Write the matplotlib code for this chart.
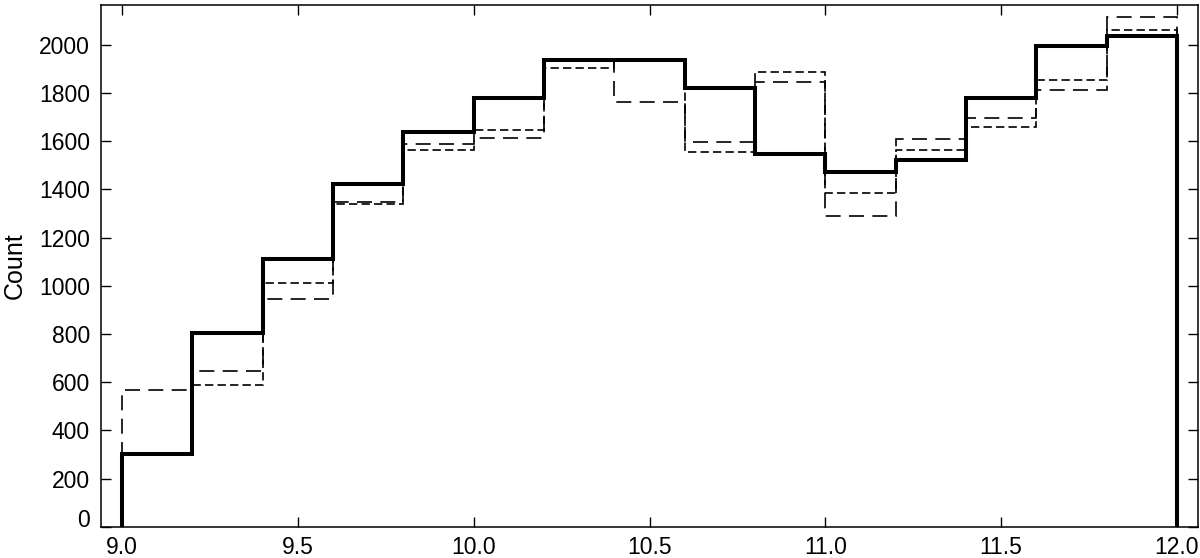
import matplotlib
matplotlib.use("Agg")
import matplotlib.pyplot as plt
import numpy as np

# bin edges (0.2 wide, 9.0 .. 12.0)
edges = np.round(np.arange(9.0, 12.01, 0.2), 1)

# counts per bin
solid_counts = [300, 805, 1110, 1424, 1638, 1778, 1935, 1935, 1819, 1546,
                1473, 1523, 1778, 1995, 2036]
short_dash_counts = [300, 587, 1010, 1340, 1564, 1647, 1902, 1935, 1556, 1888,
                     1383, 1564, 1660, 1852, 2060]
long_dash_counts = [568, 646, 945, 1348, 1587, 1615, 1935, 1763, 1597, 1847,
                    1291, 1608, 1695, 1811, 2116]

xticks = [9.0, 9.5, 10.0, 10.5, 11.0, 11.5, 12.0]
yticks = list(range(0, 2001, 200))

plt.rcParams["font.family"] = ["Liberation Sans", "DejaVu Sans"]

fig = plt.figure(figsize=(12, 5.58), dpi=100)
ax = fig.add_axes([101 / 1200, 1 - 526.7 / 558, 1097 / 1200, 521.7 / 558])

ax.stairs(long_dash_counts, edges, baseline=0, color="black", lw=1.2,
          linestyle=(0, (9, 5)))
ax.stairs(short_dash_counts, edges, baseline=0, color="black", lw=1.2,
          linestyle=(0, (5, 2.5)))
ax.stairs(solid_counts, edges, baseline=0, color="black", lw=2.9)

ax.set_xlim(8.94, 12.06)
ax.set_ylim(0, 2165)
ax.set_xticks(xticks)
ax.set_xticklabels([f"{t:.1f}" for t in xticks])
ax.set_yticks(yticks)
ax.set_ylabel("Count", fontsize=18, labelpad=9)

ax.tick_params(direction="in", length=7, width=1, top=True, right=True,
               labelsize=16.5, pad=8)
ax.tick_params(axis="x", pad=7)
for s in ax.spines.values():
    s.set_linewidth(1.1)

# the "0" label sits on its tick rather than centred
ax.get_yticklabels()[0].set_verticalalignment("baseline")

fig.savefig("out.png", dpi=100)
